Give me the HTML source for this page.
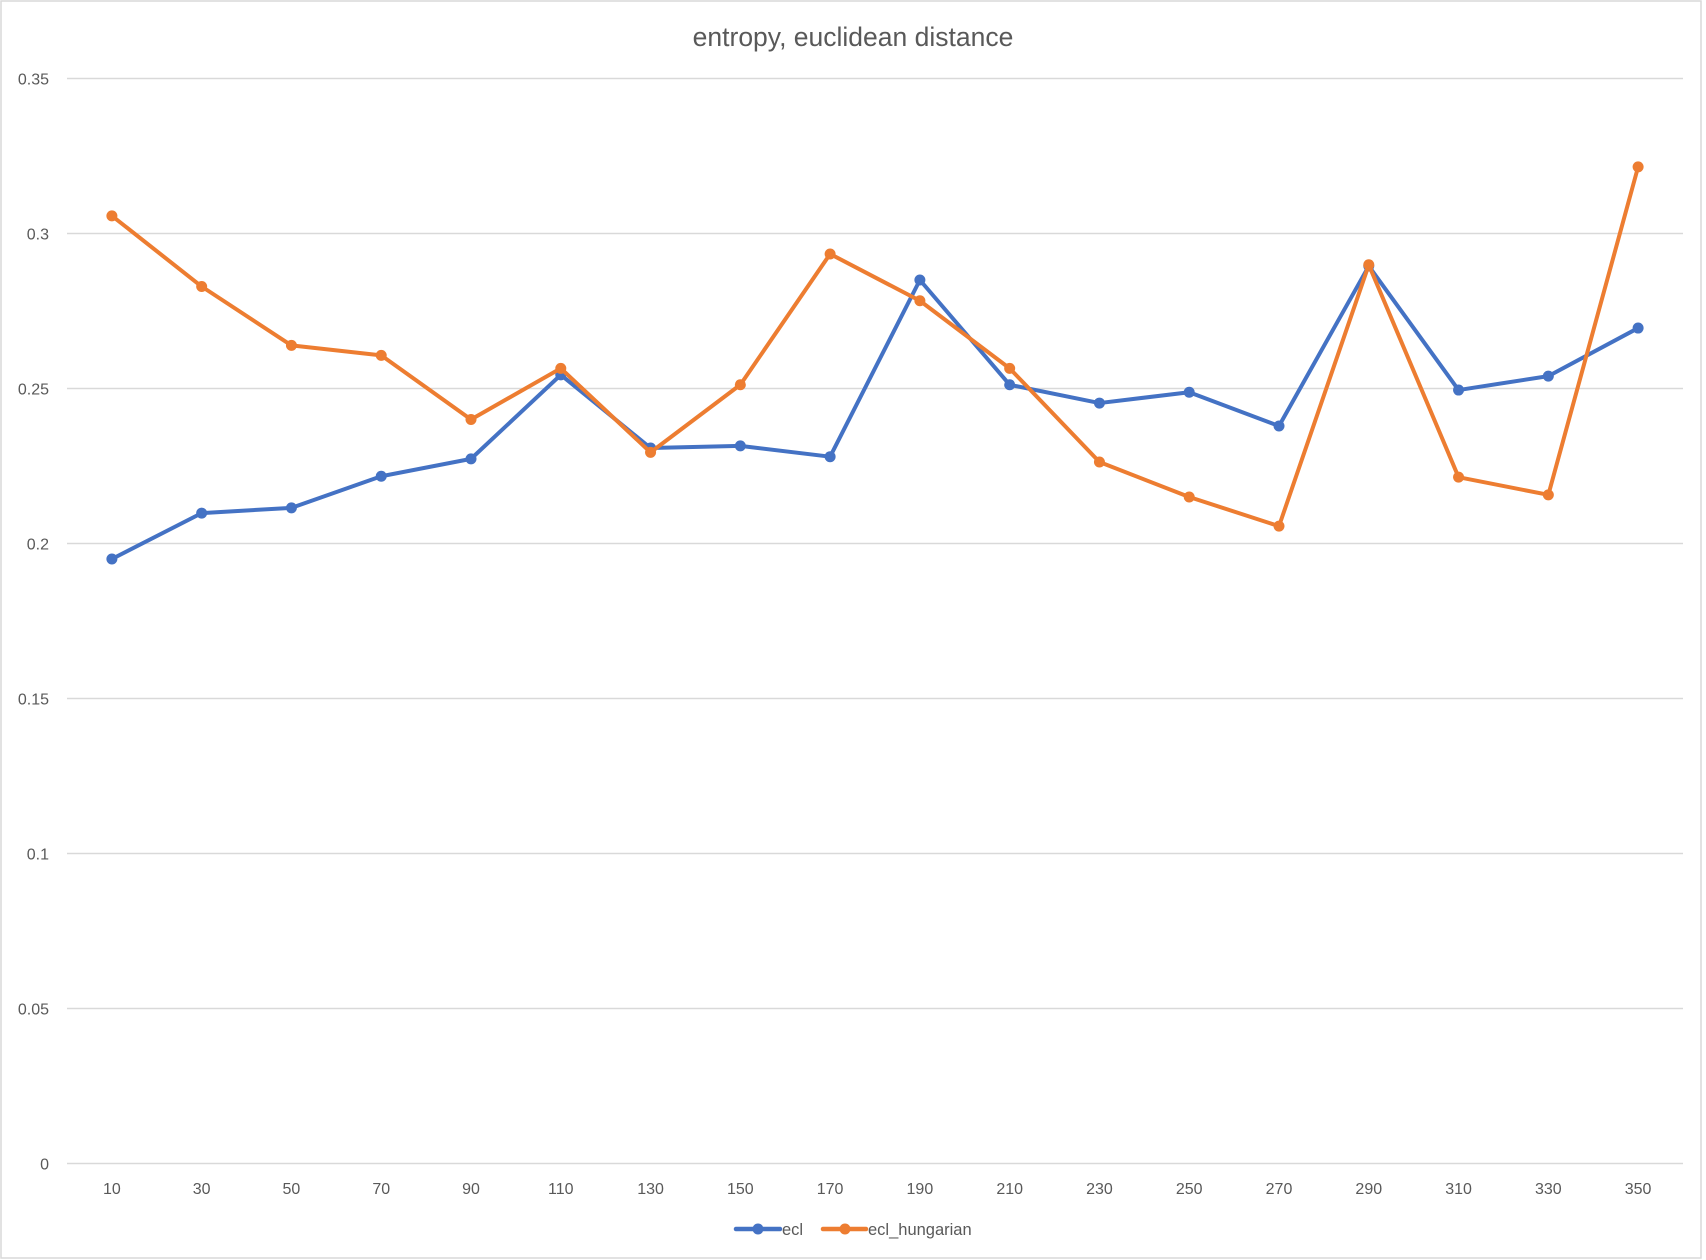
<!DOCTYPE html>
<html><head><meta charset="utf-8"><style>
html,body{margin:0;padding:0;background:#fff;}
svg{display:block;font-family:"Liberation Sans",sans-serif;}
</style></head><body>
<svg id="chart" width="1706" height="1260">
<rect x="1" y="1" width="1700" height="1257" fill="#fff" stroke="#d9d9d9" stroke-width="1.5"/>
<text x="853" y="46" text-anchor="middle" font-size="26.5" fill="#595959">entropy, euclidean distance</text>
<g id="grid"></g><g id="yticks"></g><g id="xticks"></g><g id="series"></g>
<g>
<g>
<line x1="736" y1="1229" x2="780" y2="1229" stroke="#4472C4" stroke-width="4.5" stroke-linecap="round"/>
<circle cx="758" cy="1229" r="5.5" fill="#4472C4"/>
<text x="782" y="1235" font-size="16.5" fill="#595959">ecl</text></g>
<g>
<line x1="823" y1="1229" x2="866" y2="1229" stroke="#ED7D31" stroke-width="4.5" stroke-linecap="round"/>
<circle cx="845" cy="1229" r="5.5" fill="#ED7D31"/>
<text x="868" y="1235" font-size="16.5" fill="#595959">ecl_hungarian</text></g>
</g>
</svg>
<script>
const categories=[10,30,50,70,90,110,130,150,170,190,210,230,250,270,290,310,330,350];
const eclValues=[0.195,0.2098,0.2115,0.2217,0.2273,0.2544,0.2308,0.2315,0.228,0.285,0.2512,0.2453,0.2488,0.2379,0.2895,0.2495,0.254,0.2695];
const hungarianValues=[0.3057,0.2829,0.2639,0.2607,0.24,0.2565,0.2294,0.2512,0.2934,0.2783,0.2565,0.2263,0.215,0.2056,0.2899,0.2214,0.2157,0.3215];
const yTickValues=[0,0.05,0.1,0.15,0.2,0.25,0.3,0.35];
const yTickLabels=["0","0.05","0.1","0.15","0.2","0.25","0.3","0.35"];

const NS="http://www.w3.org/2000/svg";
const plotL=67,plotR=1683,y0=1163.5,yTop=78.5,yMax=0.35;
const step=(plotR-plotL)/categories.length;
function xPos(i){return plotL+step*(i+0.5);}
function yPos(v){return y0-(v/yMax)*(y0-yTop);}
function mk(tag,attrs,parent){const e=document.createElementNS(NS,tag);for(const k in attrs)e.setAttribute(k,attrs[k]);parent.appendChild(e);return e;}

const grid=document.getElementById('grid'),yt=document.getElementById('yticks'),xt=document.getElementById('xticks'),ser=document.getElementById('series');
yTickValues.forEach((v,i)=>{
  const l=mk('line',{x1:plotL,x2:plotR,y1:yPos(v),y2:yPos(v),stroke:'#d9d9d9','stroke-width':1.5},grid);
  
  
  const t=mk('text',{x:49,y:yPos(v)+6,'text-anchor':'end','font-size':16,fill:'#595959'},yt);
  t.textContent=yTickLabels[i];
  
  
});
categories.forEach((c,i)=>{
  const t=mk('text',{x:xPos(i),y:1194,'text-anchor':'middle','font-size':16,fill:'#595959'},xt);
  t.textContent=c;
  
  
});
function drawSeries(vals,color,name){
  const g=mk('g',{},ser);
  
  
  const pts=vals.map((v,i)=>xPos(i)+','+yPos(v)).join(' ');
  const p=mk('polyline',{points:pts,fill:'none',stroke:color,'stroke-width':4,'stroke-linejoin':'round','stroke-linecap':'round'},g);
  
  
  vals.forEach((v,i)=>{
    const c=mk('circle',{cx:xPos(i),cy:yPos(v),r:5.5,fill:color},g);
    
    
  });
}
drawSeries(eclValues,'#4472C4','series-ecl');
drawSeries(hungarianValues,'#ED7D31','series-ecl-hungarian');
</script>
</body></html>
